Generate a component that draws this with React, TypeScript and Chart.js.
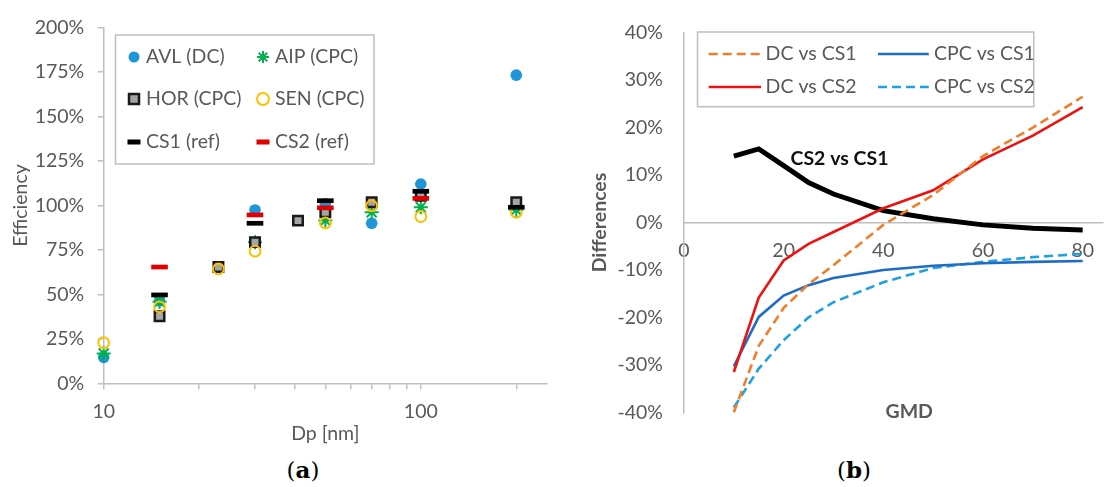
import React, { useEffect, useRef } from 'react';
import { Chart, registerables } from 'chart.js';

Chart.register(...registerables);

// ---------- Panel (a): efficiency vs particle diameter ----------
const dpNm = [10, 15, 23, 30, 41, 50, 70, 100, 200];
const avlDC = [14.6, 46.3, null, 97.5, null, 100.9, 90.0, 112.1, 173.3];
const aipCPC = [16.8, 45.8, null, 79.4, null, 91.5, 96.2, 99.0, 97.5];
const horCPC = [null, 37.7, 65.4, 79.4, 91.5, 96.2, 101.8, 105.5, 101.9];
const senCPC = [22.8, 43.0, 64.3, 74.3, null, 90.2, 99.9, 93.8, 96.2];
const cs1Ref = [null, 49.7, null, 90.0, null, 102.7, null, 108.0, 99.0];
const cs2Ref = [null, 65.4, null, 94.7, null, 98.7, null, 104.0, null];
const efficiencyTicks = [0, 25, 50, 75, 100, 125, 150, 175, 200];
const dpTickMarks = [10, 20, 30, 40, 50, 60, 70, 80, 90, 100, 200];
const dpTickLabels = [10, 100];

// ---------- Panel (b): differences vs GMD ----------
const gmd = [10, 15, 20, 25, 30, 40, 50, 60, 70, 80];
const dcVsCs1 = [-40, -26, -18, -13, -9, -0.5, 5.8, 14, 20, 26.5];
const cpcVsCs1 = [-30.3, -19.9, -15.4, -13.2, -11.7, -10, -9.1, -8.6, -8.3, -8.1];
const dcVsCs2 = [-31.5, -15.8, -8, -4.5, -2, 3, 6.8, 13.3, 18.3, 24.3];
const cpcVsCs2 = [-39, -30.8, -24.8, -20, -16.8, -12.6, -9.6, -8.3, -7.3, -6.6];
const cs2VsCs1 = [14, 15.5, 12, 8.4, 6, 2.5, 0.8, -0.5, -1.2, -1.6];
const gmdTicks = [0, 20, 40, 60, 80];
const diffTicks = [-40, -30, -20, -10, 0, 10, 20, 30, 40];
const cs2Cs1Label = { text: 'CS2 vs CS1', x: 31.2, y: 13.5 };

const FONT = 'Lato, "Open Sans", sans-serif';
const TXT = '#595959';
const AXIS = '#BFBFBF';
const FS = 19.5;

const pts = (xs: number[], ys: (number | null)[]) =>
  xs.map((x, i) => ({ x, y: ys[i] })).filter((p) => p.y !== null);

function drawMarker(ctx: CanvasRenderingContext2D, kind: string, color: string, x: number, y: number) {
  ctx.save();
  if (kind === 'dot') {
    ctx.fillStyle = color;
    ctx.beginPath();
    ctx.arc(x, y, 5.5, 0, Math.PI * 2);
    ctx.fill();
  } else if (kind === 'star') {
    ctx.strokeStyle = color;
    ctx.lineWidth = 2;
    ctx.beginPath();
    const r = 6;
    for (let a = 0; a < 4; a++) {
      const ang = (a * Math.PI) / 4;
      ctx.moveTo(x - Math.cos(ang) * r, y - Math.sin(ang) * r);
      ctx.lineTo(x + Math.cos(ang) * r, y + Math.sin(ang) * r);
    }
    ctx.stroke();
  } else if (kind === 'square') {
    ctx.fillStyle = '#A5A5A5';
    ctx.strokeStyle = '#1a1a1a';
    ctx.lineWidth = 2.5;
    ctx.fillRect(x - 5, y - 5, 10, 10);
    ctx.strokeRect(x - 5, y - 5, 10, 10);
  } else if (kind === 'ring') {
    ctx.strokeStyle = color;
    ctx.lineWidth = 2;
    ctx.beginPath();
    ctx.arc(x, y, 6, 0, Math.PI * 2);
    ctx.stroke();
  } else if (kind === 'dash') {
    ctx.fillStyle = color;
    ctx.fillRect(x - 6.5, y - 2.5, 13, 5);
  }
  ctx.restore();
}

const legendA = {
  id: 'legendA',
  afterDraw(chart: any) {
    const ctx = chart.ctx as CanvasRenderingContext2D;
    ctx.save();
    ctx.strokeStyle = AXIS;
    ctx.lineWidth = 1.5;
    ctx.strokeRect(115.5, 35, 258.5, 129);
    ctx.font = `${FS}px ${FONT}`;
    ctx.fillStyle = TXT;
    ctx.textBaseline = 'middle';
    ctx.textAlign = 'left';
    const rows = [57, 99, 142];
    const cols = [134, 263];
    const textX = [146, 275];
    const kinds = ['dot', 'star', 'square', 'ring', 'dash', 'dash'];
    chart.data.datasets.forEach((ds: any, i: number) => {
      const r = Math.floor(i / 2);
      const c = i % 2;
      const col = ds.legendColor || ds.borderColor;
      drawMarker(ctx, kinds[i], col, cols[c], rows[r]);
      ctx.fillStyle = TXT;
      ctx.fillText(ds.label, textX[c], rows[r]);
    });
    ctx.restore();
  },
};

const legendB = {
  id: 'legendB',
  afterDraw(chart: any) {
    const ctx = chart.ctx as CanvasRenderingContext2D;
    const { chartArea, scales } = chart;
    ctx.save();
    ctx.strokeStyle = AXIS;
    ctx.lineWidth = 1.5;
    ctx.strokeRect(117.5, 32, 336.3, 74.7);
    ctx.font = `${FS}px ${FONT}`;
    ctx.textBaseline = 'middle';
    ctx.textAlign = 'left';
    const rows = [54, 87];
    const lineX = [[128.7, 181], [298, 348.8]];
    const textX = [185.6, 353.9];
    chart.data.datasets.forEach((ds: any) => {
      if (ds.legendSlot === undefined) return;
      const r = Math.floor(ds.legendSlot / 2);
      const c = ds.legendSlot % 2;
      ctx.strokeStyle = ds.borderColor;
      ctx.lineWidth = ds.borderWidth;
      ctx.setLineDash(ds.borderDash || []);
      ctx.beginPath();
      ctx.moveTo(lineX[c][0], rows[r]);
      ctx.lineTo(lineX[c][1], rows[r]);
      ctx.stroke();
      ctx.setLineDash([]);
      ctx.fillStyle = TXT;
      ctx.fillText(ds.label, textX[c], rows[r]);
    });
    // annotation on the black curve
    ctx.font = `bold ${FS}px ${FONT}`;
    ctx.fillStyle = '#111';
    ctx.textAlign = 'center';
    ctx.fillText(
      cs2Cs1Label.text,
      scales.x.getPixelForValue(cs2Cs1Label.x),
      scales.y.getPixelForValue(cs2Cs1Label.y)
    );
    // x axis title at the bottom of the plot area
    ctx.fillStyle = TXT;
    ctx.fillText('GMD', chartArea.left + (chartArea.right - chartArea.left) * 0.538, chartArea.bottom - 1);
    ctx.restore();
  },
};

export default function App() {
  const leftRef = useRef<HTMLCanvasElement>(null);
  const rightRef = useRef<HTMLCanvasElement>(null);

  useEffect(() => {
    const tickFont = { family: FONT, size: FS };
    const left = new Chart(leftRef.current as HTMLCanvasElement, {
      type: 'scatter',
      data: {
        datasets: [
          { label: 'AVL (DC)', data: pts(dpNm, avlDC), pointStyle: 'circle', pointRadius: 5.8, backgroundColor: '#1E96D8', borderColor: '#1E96D8', borderWidth: 0, order: 6, clip: false } as any,
          { label: 'AIP (CPC)', data: pts(dpNm, aipCPC), pointStyle: 'star', pointRadius: 7, backgroundColor: '#00B050', borderColor: '#00B050', borderWidth: 2, order: 5, clip: false } as any,
          { label: 'HOR (CPC)', data: pts(dpNm, horCPC), pointStyle: 'rect', pointRadius: 6.7, backgroundColor: '#A5A5A5', borderColor: '#1a1a1a', borderWidth: 2.5, order: 4, clip: false } as any,
          { label: 'SEN (CPC)', data: pts(dpNm, senCPC), pointStyle: 'circle', pointRadius: 5.4, backgroundColor: 'rgba(0,0,0,0)', borderColor: '#FFC000', borderWidth: 2, order: 3, clip: false } as any,
          { label: 'CS1 (ref)', data: pts(dpNm, cs1Ref), pointStyle: 'line', pointRadius: 8.3, backgroundColor: '#000', borderColor: '#000', borderWidth: 4.7, order: 2, clip: false } as any,
          { label: 'CS2 (ref)', data: pts(dpNm, cs2Ref), pointStyle: 'line', pointRadius: 8.3, backgroundColor: '#E00000', borderColor: '#E00000', borderWidth: 4.7, order: 1, clip: false } as any,
        ],
      },
      options: {
        animation: false,
        responsive: false,
        devicePixelRatio: 1,
        layout: { padding: { top: 27.7, right: 10, left: 0, bottom: 0 } },
        plugins: { legend: { display: false }, tooltip: { enabled: false } },
        scales: {
          x: {
            type: 'logarithmic',
            min: 10,
            max: 250,
            afterBuildTicks: (s: any) => { s.ticks = dpTickMarks.map((v) => ({ value: v })); },
            afterFit: (s: any) => { s.height = 61.7; },
            ticks: {
              autoSkip: false,
              maxRotation: 0,
              padding: 11,
              color: TXT,
              font: tickFont,
              callback: (v: any) => (dpTickLabels.includes(Number(v)) ? String(v) : ''),
            },
            grid: { drawOnChartArea: false, drawTicks: true, tickLength: 6, color: AXIS, lineWidth: 1.5 },
            border: { color: AXIS, width: 1.5 },
            title: { display: true, text: 'Dp [nm]', color: TXT, font: tickFont, padding: { top: 1.3, bottom: 0 } },
          },
          y: {
            type: 'linear',
            min: 0,
            max: 200,
            afterBuildTicks: (s: any) => { s.ticks = efficiencyTicks.map((v) => ({ value: v })); },
            afterFit: (s: any) => { s.width = 103.7; },
            ticks: { padding: 13.5, color: TXT, font: tickFont, callback: (v: any) => `${v}%` },
            grid: { drawOnChartArea: false, drawTicks: true, tickLength: 6, color: AXIS, lineWidth: 1.5 },
            border: { color: AXIS, width: 1.5 },
            title: { display: true, text: 'Efficiency', color: TXT, font: tickFont, padding: { top: 9.3, bottom: 0 } },
          },
        },
      } as any,
      plugins: [legendA],
    });

    const lineDs = (label: string, ys: number[], color: string, width: number, dash: number[] | undefined, slot: number | undefined, order: number) => ({
      label,
      data: pts(gmd, ys),
      showLine: true,
      borderColor: color,
      backgroundColor: color,
      borderWidth: width,
      borderDash: dash,
      pointRadius: 0,
      tension: 0,
      fill: false,
      legendSlot: slot,
      order,
      clip: false,
    });

    const right = new Chart(rightRef.current as HTMLCanvasElement, {
      type: 'scatter',
      data: {
        datasets: [
          lineDs('DC vs CS1', dcVsCs1, '#F07D2A', 2.6, [9, 5], 0, 1),
          lineDs('CPC vs CS1', cpcVsCs1, '#1E6CC4', 2.6, undefined, 1, 3),
          lineDs('DC vs CS2', dcVsCs2, '#EE1111', 2.6, undefined, 2, 2),
          lineDs('CPC vs CS2', cpcVsCs2, '#1FA0E2', 2.6, [9, 5], 3, 4),
          lineDs('CS2 vs CS1', cs2VsCs1, '#000000', 5, undefined, undefined, 5),
        ] as any,
      },
      options: {
        animation: false,
        responsive: false,
        devicePixelRatio: 1,
        layout: { padding: { top: 30, right: 0, left: 0, bottom: 0 } },
        plugins: { legend: { display: false }, tooltip: { enabled: false } },
        scales: {
          x: {
            type: 'linear',
            min: 0,
            max: 84,
            position: { y: 0 },
            afterBuildTicks: (s: any) => { s.ticks = gmdTicks.map((v) => ({ value: v })); },
            afterFit: (s: any) => { s.height = 21.5; },
            ticks: { autoSkip: false, maxRotation: 0, padding: 17, color: TXT, font: tickFont },
            grid: { drawOnChartArea: false, drawTicks: false, color: AXIS, lineWidth: 1.5 },
            border: { color: AXIS, width: 1.5 },
          },
          y: {
            type: 'linear',
            min: -40,
            max: 40,
            afterBuildTicks: (s: any) => { s.ticks = diffTicks.map((v) => ({ value: v })); },
            afterFit: (s: any) => { s.width = 104; },
            ticks: { padding: 21, color: TXT, font: tickFont, callback: (v: any) => `${v}%` },
            grid: { drawOnChartArea: false, drawTicks: false, color: AXIS, lineWidth: 1.5 },
            border: { color: AXIS, width: 1.5 },
            title: { display: true, text: 'Differences', color: TXT, font: { family: FONT, size: FS, weight: 'bold' }, padding: { top: 7.8, bottom: 0 } },
          },
        },
      } as any,
      plugins: [legendB],
    });

    return () => {
      left.destroy();
      right.destroy();
    };
  }, []);

  const caption: React.CSSProperties = {
    position: 'absolute',
    width: 100,
    textAlign: 'center',
    fontFamily: '"DejaVu Serif", serif',
    fontSize: 23,
    lineHeight: '30px',
    color: '#000',
  };

  return (
    <div style={{ position: 'fixed', left: 0, top: 0, width: 1111, height: 487, background: '#fff', overflow: 'hidden' }}>
      <canvas ref={leftRef} width={560} height={445} style={{ position: 'absolute', left: 0, top: 0 }} />
      <canvas ref={rightRef} width={531} height={445} style={{ position: 'absolute', left: 580, top: 0 }} />
      <div style={{ ...caption, left: 253, top: 455 }}>(<b>a</b>)</div>
      <div style={{ ...caption, left: 804, top: 455 }}>(<b>b</b>)</div>
    </div>
  );
}
